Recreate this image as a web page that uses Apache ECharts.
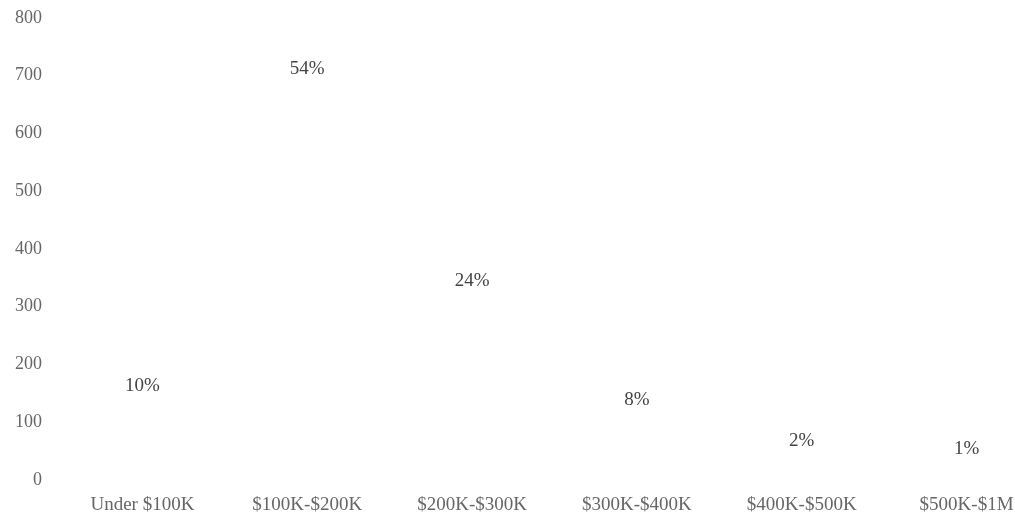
<!DOCTYPE html>
<html>
<head>
<meta charset="utf-8">
<script src="https://cdn.jsdelivr.net/npm/echarts@6/dist/echarts.min.js"></script>
<style>
  html, body { margin: 0; padding: 0; background: #fff; overflow: hidden; }
  /* plot runs a little past the right edge of the window */
  #chart { width: 1049px; height: 517px; }
</style>
</head>
<body>
<div id="chart"></div>
<script>
// Price bands and number of homes in each
const categories = ['Under $100K', '$100K-$200K', '$200K-$300K', '$300K-$400K', '$400K-$500K', '$500K-$1M'];
const counts = [142, 691, 324, 119, 47, 33];
const shareLabels = ['10%', '54%', '24%', '8%', '2%', '1%'];
const yTicks = { min: 0, max: 800, interval: 100 };

const serif = '"Liberation Serif", "DejaVu Serif", serif';

const chart = echarts.init(document.getElementById('chart'));
chart.setOption({
  animation: false,
  grid: { left: 60, top: 18, right: 0, bottom: 37, containLabel: false },
  xAxis: {
    type: 'category',
    data: categories,
    axisLine: { show: false },
    axisTick: { show: false },
    axisLabel: { color: '#666', fontFamily: serif, fontSize: 19, margin: 16, hideOverlap: false, interval: 0 }
  },
  yAxis: {
    type: 'value',
    min: yTicks.min,
    max: yTicks.max,
    interval: yTicks.interval,
    axisLine: { show: false },
    axisTick: { show: false },
    splitLine: { show: false },
    axisLabel: { color: '#666', fontFamily: serif, fontSize: 18, margin: 18 }
  },
  series: [{
    type: 'bar',
    data: counts,
    barWidth: '60%',
    itemStyle: { color: 'rgba(0,0,0,0)' },
    label: {
      show: true,
      position: 'top',
      distance: 2,
      color: '#444',
      fontFamily: serif,
      fontSize: 19,
      formatter: p => shareLabels[p.dataIndex]
    }
  }]
});
</script>
</body>
</html>
